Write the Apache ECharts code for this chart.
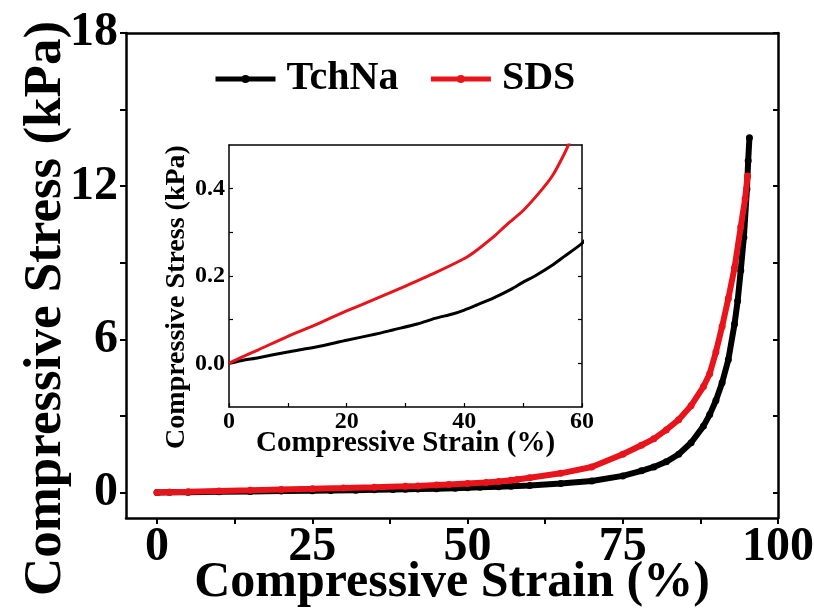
<!DOCTYPE html>
<html><head><meta charset="utf-8">
<script src="https://cdn.jsdelivr.net/npm/echarts@6/dist/echarts.min.js"></script>
<style>html,body{margin:0;padding:0;background:#fff}#c{width:814px;height:610px}</style>
</head><body><div id="c"></div>
<script>
// ---- data ----
const tchnaStrain = [0, 2, 5, 10, 15, 20, 25, 28, 32, 35, 38, 40, 42, 45, 48, 50, 52, 55, 57, 60, 65, 70, 75, 78, 80, 82, 84, 86, 88, 89, 90, 91, 92, 93, 93.5, 94, 94.5, 95, 95.2, 95.4];
const tchnaStress = [0, 0.006, 0.013, 0.026, 0.038, 0.053, 0.067, 0.077, 0.09, 0.103, 0.113, 0.122, 0.133, 0.15, 0.17, 0.186, 0.2, 0.225, 0.245, 0.275, 0.35, 0.45, 0.65, 0.85, 1.0, 1.2, 1.5, 1.95, 2.6, 3.05, 3.6, 4.3, 5.2, 6.6, 7.5, 8.7, 10.0, 11.9, 13.0, 13.9];
const sdsStrain = [0, 2, 5, 10, 15, 20, 25, 30, 35, 40, 42, 45, 47, 50, 53, 55, 57, 58, 60, 65, 70, 75, 78, 80, 82, 84, 86, 88, 89, 90, 91, 92, 93, 94, 94.7, 95.1];
const sdsStress = [0, 0.013, 0.031, 0.062, 0.09, 0.12, 0.148, 0.177, 0.207, 0.24, 0.258, 0.29, 0.315, 0.35, 0.395, 0.43, 0.48, 0.51, 0.58, 0.75, 1.0, 1.5, 1.85, 2.1, 2.45, 2.85, 3.4, 4.15, 4.65, 5.5, 6.5, 7.6, 8.8, 10.4, 11.5, 12.4];
const seriesNames = ['TchNa', 'SDS'];
const mainXTicks = [0, 12.5, 25, 37.5, 50, 62.5, 75, 87.5, 100];
const mainXLabels = [0, 25, 50, 75, 100];
const mainYTicks = [0, 3, 6, 9, 12, 15, 18];
const mainYLabels = [0, 6, 12, 18];
const insetXTicks = [0, 10, 20, 30, 40, 50, 60];
const insetXLabels = [0, 20, 40, 60];
const insetYTicks = [0, 0.1, 0.2, 0.3, 0.4];
const insetYLabels = [0, 0.2, 0.4];
const xTitle = 'Compressive Strain (%)';
const yTitle = 'Compressive Stress (kPa)';

const zip = (a, b) => a.map((v, i) => [v, b[i]]);
const FONT = "'Liberation Serif','Times New Roman',serif";
const BLACK = '#000000', RED = '#e8141b';

const frameAxis = (extra) => Object.assign({
  type: 'value', axisLine: { show: true, onZero: false, lineStyle: { color: '#000', width: 2.5 } },
  axisTick: { show: false }, axisLabel: { show: false }, splitLine: { show: false }
}, extra);

const chart = echarts.init(document.getElementById('c'), null, { renderer: 'canvas' });
chart.setOption({
  animation: false,
  backgroundColor: '#fff',
  legend: {
    data: seriesNames, left: 208, top: 54, itemWidth: 60, itemHeight: 10, itemGap: 30,
    textStyle: { fontFamily: FONT, fontWeight: 'bold', fontSize: 40, color: '#000', padding: [0, 0, 0, 6] },
    lineStyle: { width: 5 }
  },
  grid: [
    { left: 126, top: 33, width: 652, height: 485, containLabel: false, outerBoundsMode: 'none' },
    { left: 229, top: 145, width: 353, height: 262, containLabel: false, outerBoundsMode: 'none' }
  ],
  xAxis: [
    {
      gridIndex: 0, type: 'value', min: -5, max: 100,
      axisLine: { onZero: false, lineStyle: { color: '#000', width: 2.5 } },
      axisTick: { customValues: mainXTicks, length: 6, lineStyle: { width: 2, color: '#000' } },
      axisLabel: { customValues: mainXLabels, fontFamily: FONT, fontWeight: 'bold', fontSize: 48, color: '#000', margin: 6 },
      splitLine: { show: false },
      name: xTitle, nameLocation: 'middle', nameGap: 40, nameMoveOverlap: false,
      nameTextStyle: { fontFamily: FONT, fontWeight: 'bold', fontSize: 50, color: '#000' }
    },
    frameAxis({ gridIndex: 0, position: 'top', min: -5, max: 100 }),
    {
      gridIndex: 1, type: 'value', min: 0, max: 60,
      axisLine: { onZero: false, lineStyle: { color: '#000', width: 1.5 } },
      axisTick: { customValues: insetXTicks, inside: true, length: 4, lineStyle: { width: 1.2, color: '#000' } },
      axisLabel: { customValues: insetXLabels, fontFamily: FONT, fontWeight: 'bold', fontSize: 24, color: '#000', margin: 3 },
      splitLine: { show: false },
      name: xTitle, nameLocation: 'middle', nameGap: 22, nameMoveOverlap: false,
      nameTextStyle: { fontFamily: FONT, fontWeight: 'bold', fontSize: 29, color: '#000' }
    },
    frameAxis({ gridIndex: 1, position: 'top', min: 0, max: 60, axisLine: { show: true, onZero: false, lineStyle: { color: '#000', width: 1.5 } } })
  ],
  yAxis: [
    {
      gridIndex: 0, type: 'value', min: -1, max: 18,
      axisLine: { onZero: false, lineStyle: { color: '#000', width: 2.5 } },
      axisTick: { customValues: mainYTicks, length: 6, lineStyle: { width: 2, color: '#000' } },
      axisLabel: { customValues: mainYLabels, fontFamily: FONT, fontWeight: 'bold', fontSize: 48, color: '#000', margin: 8 },
      splitLine: { show: false },
      name: yTitle, nameLocation: 'middle', nameGap: 53, nameMoveOverlap: false,
      nameTextStyle: { fontFamily: FONT, fontWeight: 'bold', fontSize: 53, color: '#000', padding: [0, 66, 0, 0] }
    },
    frameAxis({ gridIndex: 0, position: 'right', min: -1, max: 18,
      axisTick: { show: true, customValues: mainYTicks, inside: true, length: 5, lineStyle: { width: 2, color: '#000' } } }),
    {
      gridIndex: 1, type: 'value', min: -0.1, max: 0.5,
      axisLine: { onZero: false, lineStyle: { color: '#000', width: 1.5 } },
      axisTick: { customValues: insetYTicks, inside: true, length: 4, lineStyle: { width: 1.2, color: '#000' } },
      axisLabel: { customValues: insetYLabels, formatter: v => Number(v).toFixed(1), fontFamily: FONT, fontWeight: 'bold', fontSize: 24, color: '#000', margin: 4 },
      splitLine: { show: false },
      name: yTitle, nameLocation: 'middle', nameGap: 38, nameMoveOverlap: false,
      nameTextStyle: { fontFamily: FONT, fontWeight: 'bold', fontSize: 28, color: '#000', padding: [0, 42, 0, 0] }
    },
    frameAxis({ gridIndex: 1, position: 'right', min: -0.1, max: 0.5,
      axisLine: { show: true, onZero: false, lineStyle: { color: '#000', width: 1.5 } },
      axisTick: { show: true, customValues: insetYTicks, inside: true, length: 4, lineStyle: { width: 1.2, color: '#000' } } })
  ],
  series: [
    { name: seriesNames[0], type: 'line', xAxisIndex: 0, yAxisIndex: 0, data: zip(tchnaStrain, tchnaStress),
      color: BLACK, lineStyle: { width: 6, color: BLACK }, symbol: 'circle', symbolSize: 7, showSymbol: true, showAllSymbol: true,
      itemStyle: { color: BLACK }, z: 2 },
    { name: seriesNames[1], type: 'line', xAxisIndex: 0, yAxisIndex: 0, data: zip(sdsStrain, sdsStress),
      color: RED, lineStyle: { width: 6, color: RED }, symbol: 'circle', symbolSize: 7, showSymbol: true, showAllSymbol: true,
      itemStyle: { color: RED }, z: 3 },
    { name: seriesNames[0], type: 'line', xAxisIndex: 2, yAxisIndex: 2, data: zip(tchnaStrain, tchnaStress), smooth: 0.2,
      color: BLACK, lineStyle: { width: 3, color: BLACK, join: 'round' }, showSymbol: false, clip: true, z: 4 },
    { name: seriesNames[1], type: 'line', xAxisIndex: 2, yAxisIndex: 2, data: zip(sdsStrain, sdsStress), smooth: 0.2,
      color: RED, lineStyle: { width: 3, color: RED, join: 'round' }, showSymbol: false, clip: true, z: 5 }
  ]
});
</script>
</body></html>
